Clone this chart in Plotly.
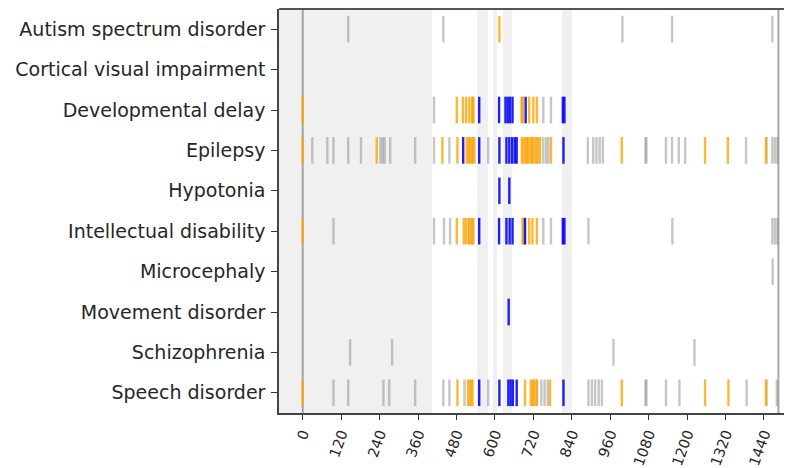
import plotly.graph_objects as go

categories = [
    "Autism spectrum disorder", "Cortical visual impairment", "Developmental delay",
    "Epilepsy", "Hypotonia", "Intellectual disability", "Microcephaly",
    "Movement disorder", "Schizophrenia", "Speech disorder",
]

# event times per category, split by colour group
autism_gray = [142, 439, 998, 1153, 1466]
autism_orange = [614]
autism_blue = []

cvi_gray = []
cvi_orange = []
cvi_blue = []

devdelay_gray = [410, 531, 684, 751, 775]
devdelay_orange = [0, 481, 500, 510, 520, 529, 533, 684, 688, 707, 720, 731]
devdelay_blue = [551, 613, 633, 640, 647, 655, 696, 812, 817]

epilepsy_gray = [30, 77, 96, 142, 182, 243, 250, 256, 273, 351, 410, 458, 520, 531, 579, 700,
                 716, 730, 751, 760, 767, 890, 907, 917, 927, 937, 1070, 1073, 1134, 1153,
                 1174, 1194, 1384, 1448, 1466, 1474, 1482]
epilepsy_orange = [0, 231, 436, 483, 512, 518, 524, 530, 536, 684, 690, 696, 702, 708, 714,
                   720, 727, 735, 741, 775, 996, 1256, 1327, 1446]
epilepsy_blue = [501, 551, 614, 636, 645, 654, 662, 668, 814]

hypotonia_gray = []
hypotonia_orange = []
hypotonia_blue = [614, 645]

intdis_gray = [96, 410, 441, 460, 520, 530, 687, 751, 775, 892, 1154, 1466, 1474, 1482]
intdis_orange = [0, 481, 503, 510, 518, 526, 533, 687, 691, 707, 717, 731]
intdis_blue = [551, 613, 636, 646, 655, 694, 812, 817]

micro_gray = [1467]
micro_orange = []
micro_blue = []

movement_gray = []
movement_orange = []
movement_blue = [643]

schizo_gray = [148, 279, 970, 1223]
schizo_orange = []
schizo_blue = []

speech_gray = [96, 142, 252, 270, 351, 439, 458, 505, 527, 579, 720, 731, 745, 755, 765, 892,
               903, 913, 924, 934, 1070, 1073, 1134, 1176, 1386, 1448, 1480]
speech_orange = [0, 483, 516, 522, 530, 694, 712, 718, 724, 731, 772, 996, 1256, 1329, 1446]
speech_blue = [551, 614, 642, 649, 656, 668, 814]

gray_events = [autism_gray, cvi_gray, devdelay_gray, epilepsy_gray, hypotonia_gray,
               intdis_gray, micro_gray, movement_gray, schizo_gray, speech_gray]
orange_events = [autism_orange, cvi_orange, devdelay_orange, epilepsy_orange, hypotonia_orange,
                 intdis_orange, micro_orange, movement_orange, schizo_orange, speech_orange]
blue_events = [autism_blue, cvi_blue, devdelay_blue, epilepsy_blue, hypotonia_blue,
               intdis_blue, micro_blue, movement_blue, schizo_blue, speech_blue]

# shaded periods and reference lines
band_starts = [-100, 544, 594, 625, 809]
band_ends = [404, 578, 607, 653, 841]
ref_lines = [0, 1485]

x_ticks = list(range(0, 1441, 120))
x_range = [-74.0, 1552.4]

fig = go.Figure()

for s, e in zip(band_starts, band_ends):
    fig.add_vrect(x0=max(s, x_range[0]), x1=e, fillcolor="#f0f0f0", line_width=0, layer="below")

for v in ref_lines:
    fig.add_shape(type="line", xref="x", yref="paper", x0=v, x1=v, y0=0, y1=1,
                  line=dict(color="rgba(120,120,120,0.65)", width=2), layer="below")


def add_group(events, color):
    xs, ys = [], []
    for cat, vals in zip(categories, events):
        for v in vals:
            xs.append(v)
            ys.append(cat)
    fig.add_trace(go.Scatter(
        x=xs, y=ys, mode="markers", hoverinfo="x+y",
        marker=dict(symbol="line-ns", size=19, line=dict(width=2.4, color=color)),
        showlegend=False,
    ))


add_group(gray_events, "rgba(128,128,128,0.45)")
add_group(orange_events, "rgba(255,165,0,0.8)")
add_group(blue_events, "rgba(0,0,245,0.88)")

# top frame line
fig.add_shape(type="line", xref="paper", yref="paper", x0=0, x1=1, y0=1, y1=1,
              line=dict(color="#555555", width=2))

fig.update_layout(
    width=792, height=468,
    margin=dict(l=271, r=0, t=1, b=63),
    plot_bgcolor="white", paper_bgcolor="white",
    font=dict(family="DejaVu Sans", size=19, color="#262626"),
)
fig.update_xaxes(
    range=x_range, tickvals=x_ticks, ticktext=[str(t) for t in x_ticks],
    tickangle=-70, tickfont=dict(size=14.5), ticks="outside", ticklen=5, tickcolor="#333",
    showgrid=False, zeroline=False, showline=True, linecolor="#444", linewidth=1.5,
    automargin=False,
)
fig.update_yaxes(
    type="category", categoryorder="array", categoryarray=categories,
    range=[9.5, -0.5], tickvals=categories,
    ticks="outside", ticklen=6, tickcolor="#333", ticklabelstandoff=2,
    showgrid=False, zeroline=False, showline=True, linecolor="#444", linewidth=1.5,
    automargin=False,
)

fig.write_html("out.html")
